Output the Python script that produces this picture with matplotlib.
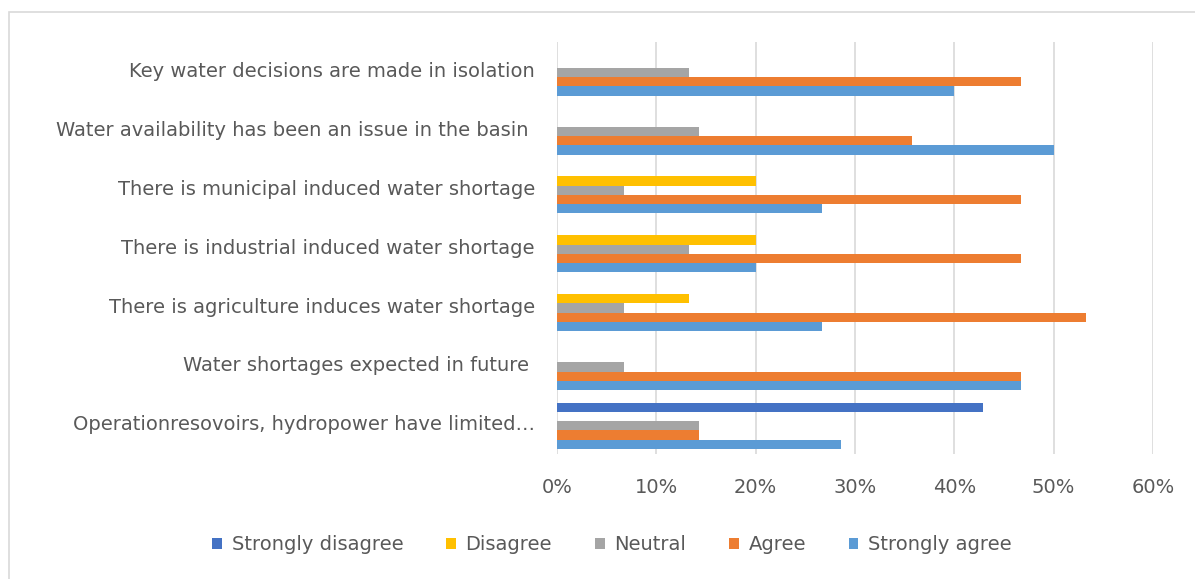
import numpy as np
import matplotlib.pyplot as plt
from matplotlib.patches import Rectangle

plt.rcParams['font.family'] = ['DejaVu Sans']

# Survey statements (top to bottom) and share of responses per category
statements = [
    'Key water decisions are made in isolation',
    'Water availability has been an issue in the basin ',
    'There is municipal induced water shortage',
    'There is industrial induced water shortage',
    'There is agriculture induces water shortage',
    'Water shortages expected in future ',
    'Operationresovoirs, hydropower have limited\u2026',
]
strongly_disagree = [0, 0, 0, 0, 0, 0, 42.9]
disagree = [0, 0, 20.0, 20.0, 13.3, 0, 0]
neutral = [13.3, 14.3, 6.7, 13.3, 6.7, 6.7, 14.3]
agree = [46.7, 35.7, 46.7, 46.7, 53.3, 46.7, 14.3]
strongly_agree = [40.0, 50.0, 26.7, 20.0, 26.7, 46.7, 28.6]

series_names = ['Strongly disagree', 'Disagree', 'Neutral', 'Agree', 'Strongly agree']
series_values = [strongly_disagree, disagree, neutral, agree, strongly_agree]
colors = ['#4472C4', '#FFC000', '#A5A5A5', '#ED7D31', '#5B9BD5']

fig = plt.figure(figsize=(11.95, 5.79), dpi=100)
ax = fig.add_axes([557 / 1195, 1 - 454 / 579, (1153 - 557) / 1195, (454 - 42) / 579])

# light frame around the chart area
fig.patches.append(Rectangle((9 / 1195, -0.1), 1.2, 1 - 12.5 / 579 + 0.1,
                             transform=fig.transFigure, fill=False,
                             edgecolor='#D9D9D9', linewidth=1.2))

y = np.arange(len(statements))
h = 0.157
for i, (name, vals, c) in enumerate(zip(series_names, series_values, colors)):
    ax.barh(y + (i - 2) * h + 0.02, np.array(vals) / 100, height=h, color=c,
            label=name, zorder=3)

ax.set_xlim(0, 0.6)
ax.set_ylim(len(statements) - 0.5, -0.5)
ax.set_xticks(np.arange(0, 0.61, 0.1))
ax.set_xticklabels([f'{int(round(t * 100))}%' for t in np.arange(0, 0.61, 0.1)])
ax.set_yticks(y - 0.03)
ax.set_yticklabels(statements)
ax.xaxis.grid(True, color='#D9D9D9', linewidth=1.2, zorder=0)
for s in ax.spines.values():
    s.set_visible(False)
ax.tick_params(axis='both', length=0, colors='#595959', labelsize=14)
ax.tick_params(axis='x', pad=17)
ax.tick_params(axis='y', pad=16)

fig.legend(loc='center', bbox_to_anchor=(612 / 1195, 1 - 545 / 579), ncol=5,
           frameon=False, fontsize=14, handlelength=0.5, handleheight=0.5,
           handletextpad=0.5, columnspacing=2.2, labelcolor='#595959')

fig.savefig('out.png', dpi=100)
